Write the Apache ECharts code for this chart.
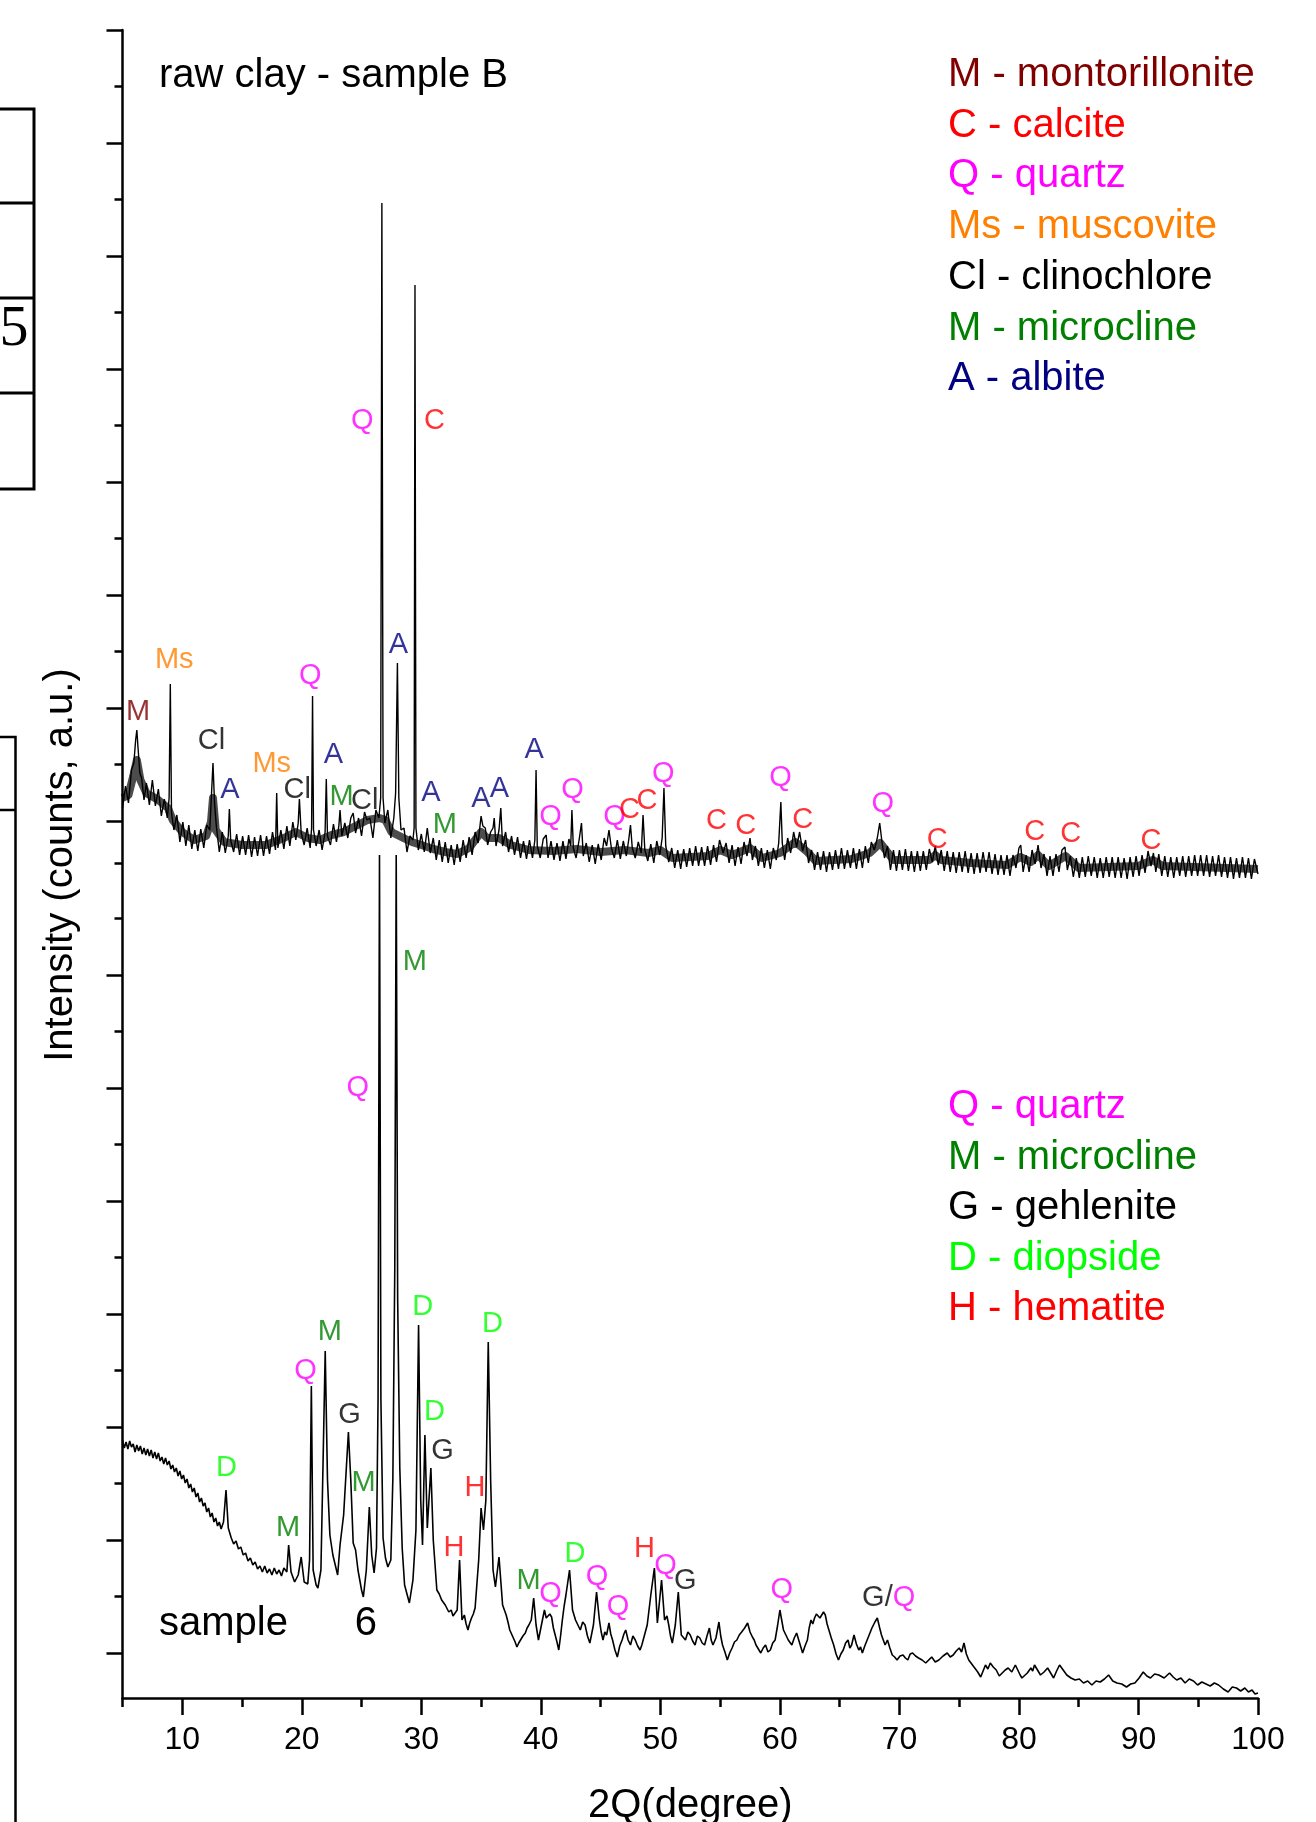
<!DOCTYPE html>
<html>
<head>
<meta charset="utf-8">
<title>XRD - raw clay sample B / sample 6</title>
<script src="https://cdn.jsdelivr.net/npm/echarts@6/dist/echarts.min.js"></script>
<style>
  html, body { margin: 0; padding: 0; background: #fff; }
  #chart { width: 1316px; height: 1822px; }
</style>
</head>
<body>
<div id="chart"></div>
<script>
// tick positions (2theta and the arbitrary intensity scale)
var xMajorTicks = [10, 20, 30, 40, 50, 60, 70, 80, 90, 100];
var xMinorTicks = [5, 15, 25, 35, 45, 55, 65, 75, 85, 95];
var yMajorTicks = [45, 158, 271, 384, 497, 610, 723, 877, 990, 1103, 1216, 1329, 1442, 1555, 1668];
var yMinorTicks = [101.5, 214.5, 327.5, 440.5, 553.5, 666.5, 779.5, 835, 933.5, 1046.5, 1159.5, 1272.5, 1385.5, 1498.5, 1611.5];

// raw clay - sample B  [2theta, intensity]
var rawClay = [
  [5.0,890],[5.25,912],[5.5,895],[5.75,928],[5.95,935],[6.1,958],[6.2,968],[6.3,950],[6.45,925],[6.6,920],
  [6.8,898],[7.0,915],[7.25,893],[7.5,918],[7.75,892],[8.0,909],[8.25,882],[8.5,899],[8.75,880],[8.9,900],
  [9.0,1014],[9.1,885],[9.3,868],[9.55,883],[9.8,856],[10.05,876],[10.3,852],[10.55,873],[10.8,849],[11.05,868],
  [11.3,847],[11.55,869],[11.8,850],[12.05,873],[12.3,868],[12.45,905],[12.57,935],[12.7,895],[12.85,872],[13.1,846],
  [13.35,866],[13.6,845],[13.85,862],[13.94,889],[14.05,858],[14.3,846],[14.55,864],[14.8,843],[15.05,862],[15.3,843],
  [15.55,863],[15.8,841],[16.05,861],[16.3,842],[16.55,863],[16.8,842],[17.05,862],[17.3,844],[17.55,866],[17.8,848],
  [17.9,905],[18.0,850],[18.25,868],[18.5,849],[18.75,872],[19.0,852],[19.25,876],[19.5,858],[19.7,875],[19.8,899],
  [19.95,865],[20.2,853],[20.45,870],[20.7,850],[20.82,870],[20.9,1002],[20.98,868],[21.2,852],[21.45,868],[21.7,848],
  [21.95,866],[22.05,919],[22.15,862],[22.4,853],[22.65,874],[22.9,856],[23.1,872],[23.2,888],[23.35,862],[23.6,875],
  [23.85,860],[24.1,880],[24.3,885],[24.5,865],[24.75,880],[25.0,862],[25.25,886],[25.45,878],[25.7,880],[25.95,860],
  [26.2,888],[26.45,880],[26.6,900],[26.7,1495],[26.8,900],[26.95,875],[27.2,888],[27.45,860],[27.7,880],[27.85,905],
  [28.0,1035],[28.12,900],[28.3,868],[28.55,870],[28.8,846],[29.05,862],[29.3,858],[29.4,870],[29.47,1413],[29.55,870],
  [29.75,848],[30.0,864],[30.25,846],[30.5,870],[30.75,845],[31.0,860],[31.25,838],[31.5,858],[31.75,836],[32.0,856],
  [32.25,835],[32.5,853],[32.75,833],[33.0,854],[33.25,836],[33.5,858],[33.75,840],[34.0,861],[34.25,843],[34.5,866],
  [34.75,855],[35.0,882],[35.15,872],[35.35,870],[35.55,853],[35.8,866],[36.0,870],[36.1,880],[36.25,852],[36.5,868],
  [36.65,890],[36.8,852],[37.05,866],[37.3,846],[37.55,862],[37.8,843],[38.05,861],[38.3,840],[38.55,857],[38.8,839],
  [39.05,858],[39.3,840],[39.5,858],[39.6,928],[39.7,852],[39.95,840],[40.2,859],[40.45,863],[40.6,840],[40.85,857],
  [41.1,838],[41.35,855],[41.6,837],[41.85,857],[42.1,839],[42.35,859],[42.5,852],[42.6,888],[42.72,850],[42.95,840],
  [43.2,858],[43.4,875],[43.55,842],[43.8,855],[44.05,836],[44.3,853],[44.55,834],[44.8,854],[45.05,838],[45.3,860],
  [45.5,852],[45.7,868],[45.9,850],[46.15,840],[46.4,858],[46.65,839],[46.9,857],[47.15,842],[47.35,858],[47.5,873],
  [47.65,850],[47.9,840],[48.15,856],[48.4,845],[48.55,883],[48.7,848],[48.95,837],[49.2,854],[49.45,835],[49.7,857],
  [49.95,843],[50.15,860],[50.3,910],[50.45,852],[50.7,836],[50.95,850],[51.2,830],[51.45,848],[51.7,829],[51.95,849],
  [52.2,831],[52.45,850],[52.7,832],[52.95,852],[53.2,832],[53.45,851],[53.7,832],[53.95,852],[54.2,833],[54.45,853],
  [54.7,836],[54.95,858],[55.1,860],[55.25,845],[55.5,855],[55.75,835],[56.0,853],[56.25,832],[56.5,851],[56.75,834],
  [57.0,856],[57.25,842],[57.5,860],[57.7,838],[57.95,852],[58.2,832],[58.45,850],[58.7,830],[58.95,848],[59.2,829],
  [59.45,850],[59.7,838],[59.9,855],[60.08,896],[60.2,855],[60.4,838],[60.65,860],[60.9,845],[61.15,866],[61.4,851],
  [61.65,866],[61.9,847],[62.15,858],[62.4,835],[62.65,848],[62.9,828],[63.15,846],[63.4,828],[63.65,847],[63.9,826],
  [64.15,846],[64.4,828],[64.65,848],[64.9,829],[65.15,850],[65.4,829],[65.65,848],[65.9,830],[66.15,850],[66.4,829],
  [66.65,849],[66.9,830],[67.15,852],[67.4,835],[67.65,856],[67.9,848],[68.15,860],[68.35,875],[68.55,855],[68.75,840],
  [69.0,852],[69.25,828],[69.5,848],[69.75,827],[70.0,848],[70.25,828],[70.5,849],[70.75,827],[71.0,847],[71.25,826],
  [71.5,847],[71.75,827],[72.0,847],[72.25,828],[72.5,849],[72.75,836],[73.0,852],[73.25,833],[73.5,848],[73.75,827],
  [74.0,847],[74.25,826],[74.5,846],[74.75,825],[75.0,846],[75.25,826],[75.5,847],[75.75,825],[76.0,845],[76.25,824],
  [76.5,845],[76.75,825],[77.0,846],[77.25,826],[77.5,846],[77.75,824],[78.0,844],[78.25,823],[78.5,843],[78.75,823],
  [79.0,843],[79.25,822],[79.5,843],[79.75,830],[80.0,850],[80.15,853],[80.35,826],[80.6,843],[80.85,826],[81.1,848],
  [81.35,834],[81.6,853],[81.85,830],[82.1,844],[82.35,822],[82.6,842],[82.85,822],[83.1,844],[83.35,826],[83.6,848],
  [83.85,851],[84.05,828],[84.3,842],[84.55,821],[84.8,840],[85.05,820],[85.3,841],[85.55,821],[85.8,842],[86.05,822],
  [86.3,841],[86.55,820],[86.8,840],[87.05,820],[87.3,841],[87.55,821],[87.8,841],[88.05,820],[88.3,841],[88.55,820],
  [88.8,840],[89.05,819],[89.3,841],[89.55,821],[89.8,842],[90.05,822],[90.3,843],[90.55,825],[90.8,847],[91.05,832],
  [91.25,845],[91.45,826],[91.7,844],[91.95,822],[92.2,842],[92.45,821],[92.7,841],[92.95,820],[93.2,841],[93.45,822],
  [93.7,842],[93.95,821],[94.2,842],[94.45,822],[94.7,843],[94.95,822],[95.2,843],[95.45,822],[95.7,843],[95.95,821],
  [96.2,842],[96.45,822],[96.7,843],[96.95,821],[97.2,841],[97.45,820],[97.7,841],[97.95,819],[98.2,840],[98.45,820],
  [98.7,841],[98.95,820],[99.2,840],[99.45,819],[99.7,839],[100.0,824]
];

// centre line of the dense noise core of the raw clay trace [2theta, intensity]
var rawClayNoiseCore = [
  [5.0,900],[5.5,903],[5.9,922],[6.2,938],[6.5,918],[7.0,905],[8.0,898],[8.8,890],
  [9.2,878],[10.0,866],[11.0,858],[12.0,862],[12.4,876],[12.57,900],[12.8,868],[13.5,856],
  [15.0,853],[17.0,853],[18.5,860],[19.5,866],[20.5,860],[21.5,858],[22.5,863],[23.5,866],
  [24.5,872],[25.5,878],[26.5,880],[27.0,878],[27.5,866],[28.5,860],[29.2,856],[30.0,853],
  [31.0,849],[32.0,846],[33.0,844],[34.0,850],[35.0,866],[35.5,860],[36.5,860],[37.5,853],
  [39.0,848],[41.0,847],[43.0,849],[45.0,846],[47.0,848],[49.0,845],[50.0,848],[51.0,840],
  [54.0,842],[55.0,848],[56.0,843],[57.5,850],[58.5,840],[60.0,845],[61.3,856],[62.3,846],
  [63.0,837],[66.0,839],[67.5,845],[68.4,855],[69.5,838],[72.5,838],[73.0,843],[73.5,838],
  [76.0,835],[79.0,833],[80.1,841],[81.0,836],[81.6,843],[82.5,832],[83.9,842],[85.0,830],
  [90.0,832],[91.2,838],[92.0,832],[100.0,829]
];

// sample 6  [2theta, intensity]
var sample6 = [
  [5.0,258],[5.15,250],[5.3,256],[5.45,249],[5.6,257],[5.75,251],[5.9,254],[6.05,246],[6.2,253],[6.35,247],
  [6.5,252],[6.65,244],[6.8,250],[6.95,243],[7.1,249],[7.25,242],[7.4,248],[7.55,240],[7.7,246],[7.85,239],
  [8.0,245],[8.15,237],[8.3,241],[8.45,234],[8.6,240],[8.75,233],[8.9,237],[9.05,229],[9.2,233],[9.35,226],
  [9.5,230],[9.65,222],[9.8,227],[9.95,219],[10.1,223],[10.25,215],[10.4,219],[10.55,210],[10.7,214],[10.85,206],
  [11.0,210],[11.15,201],[11.3,205],[11.45,196],[11.6,200],[11.75,192],[11.9,195],[12.05,186],[12.2,190],[12.35,181],
  [12.5,185],[12.65,176],[12.8,180],[12.95,172],[13.1,176],[13.25,169],[13.45,176],[13.66,208],[13.85,170],[14.1,160],
  [14.3,154],[14.5,157],[14.7,149],[14.9,151],[15.1,143],[15.3,145],[15.5,137],[15.7,140],[15.9,133],[16.1,136],
  [16.3,129],[16.5,132],[16.7,126],[16.9,132],[17.1,125],[17.3,129],[17.5,123],[17.7,130],[17.9,124],[18.1,128],
  [18.3,122],[18.5,130],[18.75,126],[18.9,153],[19.1,126],[19.4,116],[19.7,123],[19.95,141],[20.2,116],[20.5,114],
  [20.65,138],[20.8,312],[20.95,128],[21.2,113],[21.35,110],[21.6,128],[21.8,248],[21.96,347],[22.15,218],[22.35,163],
  [22.6,143],[23.0,123],[23.2,153],[23.5,183],[23.9,266],[24.1,218],[24.3,155],[24.5,148],[24.7,128],[25.0,108],
  [25.15,101],[25.4,128],[25.65,191],[25.85,143],[26.05,125],[26.25,150],[26.38,298],[26.5,843],[26.62,298],[26.8,160],
  [27.0,140],[27.2,131],[27.45,138],[27.62,220],[27.78,430],[27.9,843],[28.02,400],[28.2,230],[28.4,150],[28.6,113],
  [28.8,104],[29.0,95],[29.3,118],[29.55,168],[29.77,373],[29.95,198],[30.1,153],[30.3,263],[30.5,170],[30.8,230],
  [31.0,158],[31.3,108],[31.5,104],[31.7,98],[31.85,100],[32.0,93],[32.15,95],[32.3,86],[32.5,88],[32.65,82],
  [32.8,84],[33.0,88],[33.2,138],[33.4,78],[33.6,83],[33.75,74],[33.9,68],[34.05,75],[34.2,80],[34.35,84],
  [34.5,90],[34.8,138],[35.0,190],[35.2,168],[35.4,198],[35.6,356],[35.8,218],[36.0,128],[36.2,111],[36.5,141],
  [36.8,93],[36.95,88],[37.1,83],[37.25,76],[37.4,68],[37.55,66],[37.7,60],[37.85,56],[38.0,51],[38.15,55],
  [38.3,58],[38.5,62],[38.7,65],[38.85,70],[39.0,73],[39.2,78],[39.4,100],[39.6,73],[39.8,58],[40.05,73],
  [40.3,88],[40.45,80],[40.6,78],[40.75,84],[40.9,81],[41.05,70],[41.2,63],[41.35,56],[41.5,48],[41.65,62],
  [41.8,78],[41.95,92],[42.1,103],[42.4,128],[42.65,88],[42.9,78],[43.1,73],[43.3,68],[43.5,76],[43.7,73],
  [43.9,62],[44.1,55],[44.4,73],[44.66,106],[44.9,78],[45.05,66],[45.2,58],[45.35,66],[45.5,63],[45.7,75],
  [45.85,64],[46.0,58],[46.2,48],[46.4,41],[46.6,52],[46.8,58],[46.95,64],[47.1,68],[47.3,58],[47.5,53],
  [47.7,62],[47.9,58],[48.1,52],[48.3,48],[48.45,53],[48.6,55],[48.9,73],[49.2,103],[49.5,130],[49.75,75],
  [50.1,118],[50.35,78],[50.55,82],[50.7,73],[50.85,62],[51.0,55],[51.25,73],[51.5,106],[51.75,63],[51.9,62],
  [52.1,58],[52.3,66],[52.5,63],[52.7,57],[52.9,53],[53.1,62],[53.3,60],[53.5,55],[53.7,53],[53.9,62],
  [54.1,70],[54.25,58],[54.4,53],[54.65,60],[54.9,76],[55.05,62],[55.2,53],[55.4,46],[55.6,38],[55.8,45],
  [56.0,50],[56.2,56],[56.4,58],[56.6,63],[56.8,66],[57.05,70],[57.3,75],[57.5,66],[57.7,61],[57.85,58],
  [58.0,53],[58.2,49],[58.4,45],[58.6,50],[58.8,53],[59.0,46],[59.2,48],[59.4,55],[59.6,58],[59.8,72],
  [60.0,88],[60.15,78],[60.3,68],[60.5,63],[60.7,58],[60.85,56],[61.0,53],[61.2,60],[61.4,65],[61.65,55],
  [61.9,45],[62.1,52],[62.3,58],[62.45,70],[62.6,78],[62.75,74],[62.9,80],[63.05,84],[63.2,86],[63.35,80],
  [63.5,78],[63.65,86],[63.8,83],[63.95,74],[64.1,68],[64.3,60],[64.5,53],[64.7,44],[64.9,38],[65.1,44],
  [65.3,48],[65.5,55],[65.7,58],[65.85,50],[66.0,53],[66.2,63],[66.4,54],[66.6,48],[66.75,51],[66.9,45],
  [67.1,52],[67.3,58],[67.5,64],[67.7,70],[67.95,76],[68.15,80],[68.35,70],[68.5,63],[68.65,58],[68.8,53],
  [69.0,58],[69.2,50],[69.4,43],[69.6,41],[69.8,38],[70.05,42],[70.3,43],[70.5,40],[70.7,38],[70.9,44],
  [71.1,45],[71.35,42],[71.6,40],[71.9,38],[72.2,35],[72.45,38],[72.7,41],[73.0,36],[73.3,38],[73.65,42],
  [74.0,45],[74.25,41],[74.5,43],[74.75,47],[75.0,50],[75.2,46],[75.4,55],[75.6,44],[75.8,38],[76.05,34],
  [76.3,30],[76.55,26],[76.8,21],[77.0,27],[77.2,33],[77.4,29],[77.6,35],[77.85,31],[78.1,28],[78.35,22],
  [78.6,25],[78.85,28],[79.1,30],[79.4,26],[79.7,33],[79.9,28],[80.1,23],[80.25,20],[80.4,18],[80.7,25],
  [81.0,30],[81.15,27],[81.3,33],[81.55,28],[81.8,23],[82.1,26],[82.4,30],[82.65,25],[82.9,20],[83.15,27],
  [83.4,33],[83.7,28],[84.0,23],[84.35,20],[84.7,18],[85.05,19],[85.4,15],[85.75,17],[86.1,13],[86.45,17],
  [86.8,16],[87.15,19],[87.5,23],[87.85,17],[88.2,15],[88.6,14],[89.0,11],[89.35,14],[89.7,15],[90.05,20],
  [90.4,26],[90.7,22],[91.0,20],[91.35,24],[91.7,23],[92.15,20],[92.6,25],[92.9,21],[93.2,18],[93.55,20],
  [93.9,15],[94.25,19],[94.6,17],[94.95,13],[95.3,16],[95.65,14],[96.0,12],[96.35,15],[96.7,13],[97.1,9],
  [97.5,6],[97.85,11],[98.2,10],[98.55,7],[98.9,10],[99.2,6],[99.5,8],[99.75,4],[100.0,5]
];

// phase marks: [2theta, intensity where the letter sits, phase]
var rawClayMarks = [
  [6.31,986,'Mt'],[9.33,1038,'Ms'],[12.44,957,'Cl'],[13.99,908,'A'],[17.49,934,'Ms'],[19.62,908,'Cl'],
  [20.7,1022,'Q'],[22.64,943,'A'],[23.32,901,'Mc'],[25.26,897,'Cl'],[25.07,1277,'Q'],[31.1,1277,'C'],
  [28.08,1053,'A'],[30.8,905,'A'],[31.97,873,'Mc'],[34.98,899,'A'],[36.53,909,'A'],[39.45,948,'A'],
  [40.81,881,'Q'],[42.66,908,'Q'],[46.16,881,'Q'],[47.42,888,'C'],[48.88,897,'C'],[50.24,924,'Q'],
  [54.7,877,'C'],[57.14,872,'C'],[60.05,920,'Q'],[61.9,878,'C'],[68.6,894,'Q'],[73.17,858,'C'],
  [81.33,866,'C'],[84.34,864,'C'],[91.05,857,'C']
];
var sample6Marks = [
  [13.7,230,'D'],[18.85,170,'Mc'],[20.31,327,'Q'],[22.35,366,'Mc'],[24.0,283,'G'],[25.16,215,'Mc'],
  [24.68,610,'Q'],[29.45,736,'Mc'],[30.12,391,'D'],[31.1,286,'D'],[31.77,247,'G'],[34.49,210,'H'],
  [32.74,150,'H'],[35.95,374,'D'],[38.97,117,'Mc'],[40.81,104,'Q'],[42.86,144,'D'],[44.7,121,'Q'],
  [46.45,91,'Q'],[48.68,149,'H'],[50.43,132,'Q'],[52.08,117,'G'],[60.15,108,'Q'],[69.1,100,'GQ']
];

var rawClayLegend = ['Mt', 'C', 'Q', 'Ms', 'Cl', 'Mc', 'A'];
var sample6Legend = ['Q', 'Mc', 'G', 'D', 'H'];

var phases = {
  Mt: { mark: 'M', name: 'montorillonite', color: '#800000' },
  C:  { mark: 'C', name: 'calcite', color: '#ff0000' },
  Q:  { mark: 'Q', name: 'quartz', color: '#ff00ff' },
  Ms: { mark: 'Ms', name: 'muscovite', color: '#ff8000' },
  Cl: { mark: 'Cl', name: 'clinochlore', color: '#000000' },
  Mc: { mark: 'M', name: 'microcline', color: '#008000' },
  A:  { mark: 'A', name: 'albite', color: '#000080' },
  G:  { mark: 'G', name: 'gehlenite', color: '#000000' },
  D:  { mark: 'D', name: 'diopside', color: '#00ff00' },
  H:  { mark: 'H', name: 'hematite', color: '#ff0000' },
  GQ: { mark: '{g|G/}{q|Q}', name: '', color: '#000000' }
};

var FONT = 'Liberation Sans';

function markSeries(marks) {
  return {
    type: 'scatter',
    symbolSize: 1,
    itemStyle: { color: 'transparent' },
    silent: true,
    z: 5,
    label: {
      show: true,
      position: 'inside',
      formatter: '{b}',
      fontSize: 29,
      fontFamily: FONT,
      rich: {
        g: { color: '#000', fontSize: 29, fontFamily: FONT },
        q: { color: '#ff00ff', fontSize: 29, fontFamily: FONT }
      }
    },
    data: marks.map(function (m) {
      var p = phases[m[2]];
      return { name: p.mark, value: [m[0], m[1]], label: { color: p.color } };
    })
  };
}

var graphics = [];
rawClayLegend.forEach(function (k, i) {
  graphics.push({
    type: 'text', x: 948, y: 75 + i * 50.7,
    style: { text: phases[k].mark + ' - ' + phases[k].name, fill: phases[k].color,
      font: '40px "' + FONT + '"', verticalAlign: 'middle' }
  });
});
sample6Legend.forEach(function (k, i) {
  graphics.push({
    type: 'text', x: 948, y: 1107 + i * 50.6,
    style: { text: phases[k].mark + ' - ' + phases[k].name, fill: phases[k].color,
      font: '40px "' + FONT + '"', verticalAlign: 'middle' }
  });
});
graphics.push(
  { type: 'text', x: 159, y: 76, style: { text: 'raw clay - sample B', fill: '#000', font: '40px "' + FONT + '"', verticalAlign: 'middle' } },
  { type: 'text', x: 159, y: 1624, style: { text: 'sample      6', fill: '#000', font: '40px "' + FONT + '"', verticalAlign: 'middle' } },
  { type: 'text', x: 61, y: 865, rotation: Math.PI / 2,
    style: { text: 'Intensity (counts, a.u.)', fill: '#000', font: '40px "' + FONT + '"', align: 'center', verticalAlign: 'middle' } },
  // bits of the neighbouring figure on the page
  { type: 'rect', shape: { x: -10, y: 109, width: 44, height: 380 }, style: { fill: 'none', stroke: '#000', lineWidth: 3 } },
  { type: 'line', shape: { x1: -10, y1: 203, x2: 34, y2: 203 }, style: { stroke: '#000', lineWidth: 3 } },
  { type: 'line', shape: { x1: -10, y1: 298, x2: 34, y2: 298 }, style: { stroke: '#000', lineWidth: 3 } },
  { type: 'line', shape: { x1: -10, y1: 393, x2: 34, y2: 393 }, style: { stroke: '#000', lineWidth: 3 } },
  { type: 'text', x: 14, y: 330, style: { text: '5', fill: '#000', font: '58px "Liberation Serif"', align: 'center', verticalAlign: 'middle' } },
  { type: 'polyline', shape: { points: [[-5, 737], [15.5, 737], [15.5, 1830]] }, style: { fill: 'none', stroke: '#000', lineWidth: 2.5 } },
  { type: 'line', shape: { x1: -5, y1: 810, x2: 15.5, y2: 810 }, style: { stroke: '#000', lineWidth: 2.5 } }
);

var chart = echarts.init(document.getElementById('chart'));
chart.setOption({
  animation: false,
  backgroundColor: '#fff',
  textStyle: { fontFamily: FONT },
  grid: { left: 122.5, right: 58, top: 30, bottom: 124, containLabel: false, outerBoundsMode: 'none' },
  xAxis: [{
    type: 'value', min: 5, max: 100, position: 'bottom',
    name: '2Q(degree)', nameLocation: 'middle', nameGap: 88,
    nameTextStyle: { fontSize: 40, color: '#000', fontFamily: FONT },
    axisLine: { show: true, onZero: false, lineStyle: { color: '#000', width: 2.5 } },
    axisTick: { show: true, length: 17, lineStyle: { color: '#000', width: 2.5 }, customValues: xMajorTicks },
    axisLabel: { show: true, fontSize: 32, color: '#000', margin: 26, fontFamily: FONT, customValues: xMajorTicks },
    splitLine: { show: false }
  }, {
    type: 'value', min: 5, max: 100, position: 'bottom',
    axisLine: { show: false },
    axisTick: { show: true, length: 9, lineStyle: { color: '#000', width: 2.5 }, customValues: xMinorTicks },
    axisLabel: { show: false },
    splitLine: { show: false }
  }],
  yAxis: [{
    type: 'value', min: 0, max: 1668, position: 'left',
    axisLine: { show: true, onZero: false, lineStyle: { color: '#000', width: 2.5 } },
    axisTick: { show: true, length: 16, lineStyle: { color: '#000', width: 2.5 }, customValues: yMajorTicks },
    axisLabel: { show: false },
    splitLine: { show: false }
  }, {
    type: 'value', min: 0, max: 1668, position: 'left',
    axisLine: { show: false },
    axisTick: { show: true, length: 8, lineStyle: { color: '#000', width: 2.5 }, customValues: yMinorTicks },
    axisLabel: { show: false },
    splitLine: { show: false }
  }],
  series: [
    // the dark core of the noise, drawn as a broader stroke along its centre
    { name: 'noise core', type: 'line', data: rawClayNoiseCore, showSymbol: false, symbol: 'none',
      lineStyle: { color: '#000', width: 8, opacity: 0.7, cap: 'butt', join: 'round' }, z: 2, silent: true },
    { name: 'raw clay - sample B', type: 'line', data: rawClay, showSymbol: false, symbol: 'none',
      lineStyle: { color: '#000', width: 1.4 }, z: 3, silent: true },
    { name: 'sample 6', type: 'line', data: sample6, showSymbol: false, symbol: 'none',
      lineStyle: { color: '#000', width: 1.6 }, z: 3, silent: true },
    markSeries(rawClayMarks),
    markSeries(sample6Marks)
  ],
  graphic: graphics
});
</script>
</body>
</html>
